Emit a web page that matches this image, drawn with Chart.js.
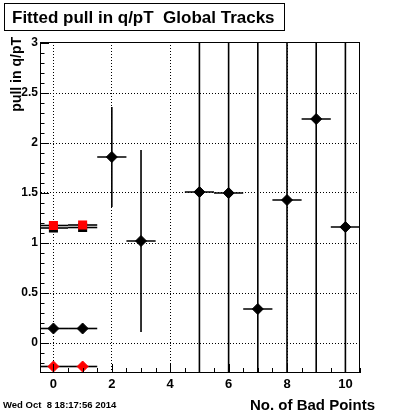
<!DOCTYPE html>
<html lang="en">
<head>
  <meta charset="UTF-8" />
  <title>Fitted pull in q/pT</title>
  <script src="https://cdn.jsdelivr.net/npm/chart.js"></script>
  <style>
    body {
      margin: 0;
      background: #fff;
    }
    .wrap {
      width: 400px;
      height: 414px;
    }
  </style>
</head>
<body>
  <div class="wrap">
    <canvas id="pullChart" width="400" height="414"></canvas>
  </div>

  <script>
    // global tracks, black diamonds
    const badPoints = [0, 1, 2, 3, 5, 6, 7, 8, 9, 10];
    const pullMean = [0.145, 0.145, 1.86, 1.02, 1.51, 1.50, 0.34, 1.43, 2.24, 1.16];
    const pullErr = [0.01, 0.01, 0.50, 0.91, 3.0, 3.0, 3.0, 3.0, 3.0, 3.0];
    const binHalfWidth = [0.5, 0.5, 0.5, 0.5, 0.5, 0.5, 0.5, 0.5, 0.5, 0.5];

    // the extra graphs drawn only for 0 and 1 bad points
    const lowBadPoints = [0, 1];
    const redSquareMean = [1.175, 1.18];
    const blackSquareMean = [1.15, 1.155];
    const redDiamondMean = [-0.235, -0.235];
    const lowErrX = [0.5, 0.5];
    const lowErrY = [0, 0];

    // axes
    const xTicks = [0, 2, 4, 6, 8, 10];
    const yTicks = [0, 0.5, 1, 1.5, 2, 2.5, 3];
    const xRange = [-0.46, 10.5];
    const yRange = [-0.29, 3.01];

    const toPoints = (xs, ys) => xs.map((v, i) => ({ x: v, y: ys[i] }));
    const FONT = '"Liberation Sans", Arial, sans-serif';

    // ROOT style error bars, drawn under the markers
    const errorBars = {
      id: 'errorBars',
      beforeDatasetsDraw(chart) {
        const { ctx, chartArea: a, scales: { x, y } } = chart;
        ctx.save();
        ctx.beginPath();
        ctx.rect(a.left, a.top, a.right - a.left, a.bottom - a.top);
        ctx.clip();
        ctx.strokeStyle = '#000';
        ctx.lineWidth = 1.6;
        chart.data.datasets.forEach(ds => {
          ds.data.forEach((p, i) => {
            const px = x.getPixelForValue(p.x);
            const py = y.getPixelForValue(p.y);
            ctx.beginPath();
            ctx.moveTo(x.getPixelForValue(p.x - ds.errX[i]), py);
            ctx.lineTo(x.getPixelForValue(p.x + ds.errX[i]), py);
            if (ds.errY[i] > 0.02) {
              ctx.moveTo(px, y.getPixelForValue(p.y - ds.errY[i]));
              ctx.lineTo(px, y.getPixelForValue(p.y + ds.errY[i]));
            }
            ctx.stroke();
          });
        });
        ctx.restore();
      }
    };

    // frame, inner tick marks and the texts around the pad
    const rootFrame = {
      id: 'rootFrame',
      afterDraw(chart) {
        const { ctx, chartArea: a, scales: { x, y } } = chart;
        ctx.save();
        ctx.strokeStyle = '#000';
        ctx.lineWidth = 1;
        ctx.strokeRect(a.left + 0.5, a.top + 0.5, a.right - a.left - 1, a.bottom - a.top);

        ctx.beginPath();
        for (let v = -0.2; v <= 3.001; v += 0.1) {
          const py = Math.round(y.getPixelForValue(v)) + 0.5;
          const major = Math.abs(v * 2 - Math.round(v * 2)) < 0.01;
          ctx.moveTo(a.left, py);
          ctx.lineTo(a.left + (major ? 9 : 4.5), py);
        }
        for (let v = 0; v <= 10.5; v += 0.5) {
          const px = Math.round(x.getPixelForValue(v)) + 0.5;
          const major = v % 2 === 0;
          ctx.moveTo(px, a.bottom);
          ctx.lineTo(px, a.bottom - (major ? 8 : 4));
        }
        ctx.stroke();

        // title box
        ctx.fillStyle = '#fff';
        ctx.fillRect(4, 3, 280, 27);
        ctx.strokeRect(4.5, 3.5, 280, 27);
        ctx.fillStyle = '#000';
        ctx.font = 'bold 17px ' + FONT;
        ctx.textBaseline = 'alphabetic';
        ctx.textAlign = 'left';
        ctx.fillText('Fitted pull in q/pT  Global Tracks', 12, 23);

        // axis titles
        ctx.font = 'bold 15px ' + FONT;
        ctx.textAlign = 'right';
        ctx.fillText('No. of Bad Points', 375, 410);

        ctx.save();
        ctx.font = 'bold 14px ' + FONT;
        ctx.translate(21, 37);
        ctx.rotate(-Math.PI / 2);
        ctx.fillText('pull in q/pT', 0, 0);
        ctx.restore();

        ctx.font = 'bold 9.5px ' + FONT;
        ctx.textAlign = 'left';
        ctx.fillText('Wed Oct  8 18:17:56 2014', 3, 408);
        ctx.restore();
      }
    };

    const gridStyle = { color: '#000', lineWidth: 1, drawTicks: false };
    const borderStyle = { color: '#000', width: 1, dash: [1, 2] };

    new Chart(document.getElementById('pullChart').getContext('2d'), {
      type: 'scatter',
      data: {
        datasets: [
          {
            label: 'red diamonds',
            data: toPoints(lowBadPoints, redDiamondMean),
            errX: lowErrX, errY: lowErrY,
            pointStyle: 'rectRot', pointRadius: 5.5,
            backgroundColor: '#ff0000', borderColor: '#ff0000', borderWidth: 1,
            order: 1
          },
          {
            label: 'red squares',
            data: toPoints(lowBadPoints, redSquareMean),
            errX: lowErrX, errY: lowErrY,
            pointStyle: 'rect', pointRadius: 6.4,
            backgroundColor: '#ff0000', borderWidth: 0,
            order: 1
          },
          {
            label: 'black squares',
            data: toPoints(lowBadPoints, blackSquareMean),
            errX: lowErrX, errY: lowErrY,
            pointStyle: 'rect', pointRadius: 6.4,
            backgroundColor: '#000', borderWidth: 0,
            order: 2
          },
          {
            label: 'global tracks',
            data: toPoints(badPoints, pullMean),
            errX: binHalfWidth, errY: pullErr,
            pointStyle: 'rectRot', pointRadius: 5.5,
            backgroundColor: '#000', borderColor: '#000', borderWidth: 1,
            order: 0
          }
        ]
      },
      options: {
        responsive: false,
        animation: false,
        events: [],
        layout: { padding: { left: 0, right: 40, top: 42, bottom: 0 } },
        plugins: {
          legend: { display: false },
          tooltip: { enabled: false }
        },
        scales: {
          x: {
            type: 'linear',
            min: xRange[0],
            max: xRange[1],
            afterBuildTicks: axis => { axis.ticks = xTicks.map(v => ({ value: v })); },
            afterFit: axis => { axis.height = 42; },
            grid: gridStyle,
            border: borderStyle,
            ticks: { color: '#000', font: { family: FONT, size: 13, weight: 'bold' }, padding: 5, maxRotation: 0, callback: v => String(v) }
          },
          y: {
            type: 'linear',
            min: yRange[0],
            max: yRange[1],
            afterBuildTicks: axis => { axis.ticks = yTicks.map(v => ({ value: v })); },
            afterFit: axis => { axis.width = 40; },
            grid: gridStyle,
            border: borderStyle,
            ticks: { color: '#000', font: { family: FONT, size: 12, weight: 'bold' }, padding: 2, callback: v => String(v) }
          }
        }
      },
      plugins: [errorBars, rootFrame]
    });
  </script>
</body>
</html>
